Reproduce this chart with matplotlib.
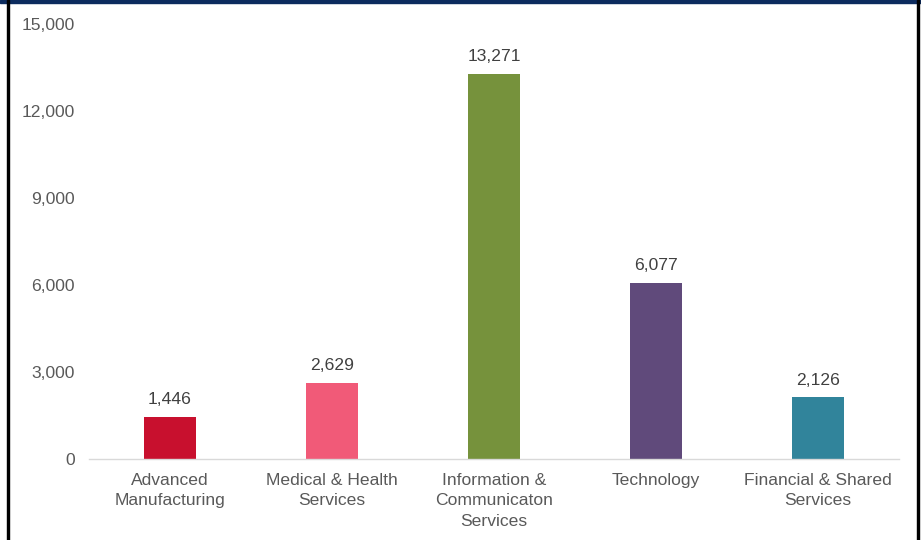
import matplotlib
matplotlib.use("Agg")
import matplotlib.pyplot as plt
from matplotlib.patches import Rectangle

# Employment by sector
categories = ["Advanced\nManufacturing", "Medical & Health\nServices",
              "Information &\nCommunicaton\nServices", "Technology",
              "Financial & Shared\nServices"]
values = [1446, 2629, 13271, 6077, 2126]
colors = ["#C8102E", "#F15A78", "#76923C", "#604A7B", "#31849B"]
yticks = [0, 3000, 6000, 9000, 12000, 15000]

plt.rcParams["font.family"] = ["Liberation Sans", "DejaVu Sans"]
FS = 12.6

fig = plt.figure(figsize=(9.21, 5.40), dpi=100)
ax = fig.add_axes([89 / 921, 1 - 459 / 540, 810 / 921, 435 / 540])

x = range(len(categories))
bars = ax.bar(x, values, width=0.315, color=colors, zorder=2)
for b, v in zip(bars, values):
    ax.annotate(f"{v:,}", (b.get_x() + b.get_width() / 2, v),
                xytext=(0, 7), textcoords="offset points",
                ha="center", va="bottom", fontsize=FS, color="#404040")

ax.set_xlim(-0.5, len(categories) - 0.5)
ax.set_ylim(0, 15000)
ax.set_yticks(yticks)
ax.set_yticklabels([f"{t:,}" for t in yticks])
ax.set_xticks(list(x))
ax.set_xticklabels(categories, linespacing=1.45)
ax.tick_params(axis="both", length=0, labelsize=FS, colors="#595959")
ax.tick_params(axis="y", pad=10)
ax.tick_params(axis="x", pad=10)
for s in ["top", "right", "left"]:
    ax.spines[s].set_visible(False)
ax.spines["bottom"].set_color("#D9D9D9")
ax.spines["bottom"].set_linewidth(1.0)

# frame around the figure
W, H = 921, 540
fig.patches.append(Rectangle((0, 1 - 3 / H), 1, 3 / H, transform=fig.transFigure,
                             color="#0C2B5E", zorder=5))
fig.patches.append(Rectangle((7 / W, 0), 2 / W, 1, transform=fig.transFigure,
                             color="#000000", zorder=5))
fig.patches.append(Rectangle((917 / W, 0), 2 / W, 1, transform=fig.transFigure,
                             color="#000000", zorder=5))

fig.savefig("out.png", dpi=100)
